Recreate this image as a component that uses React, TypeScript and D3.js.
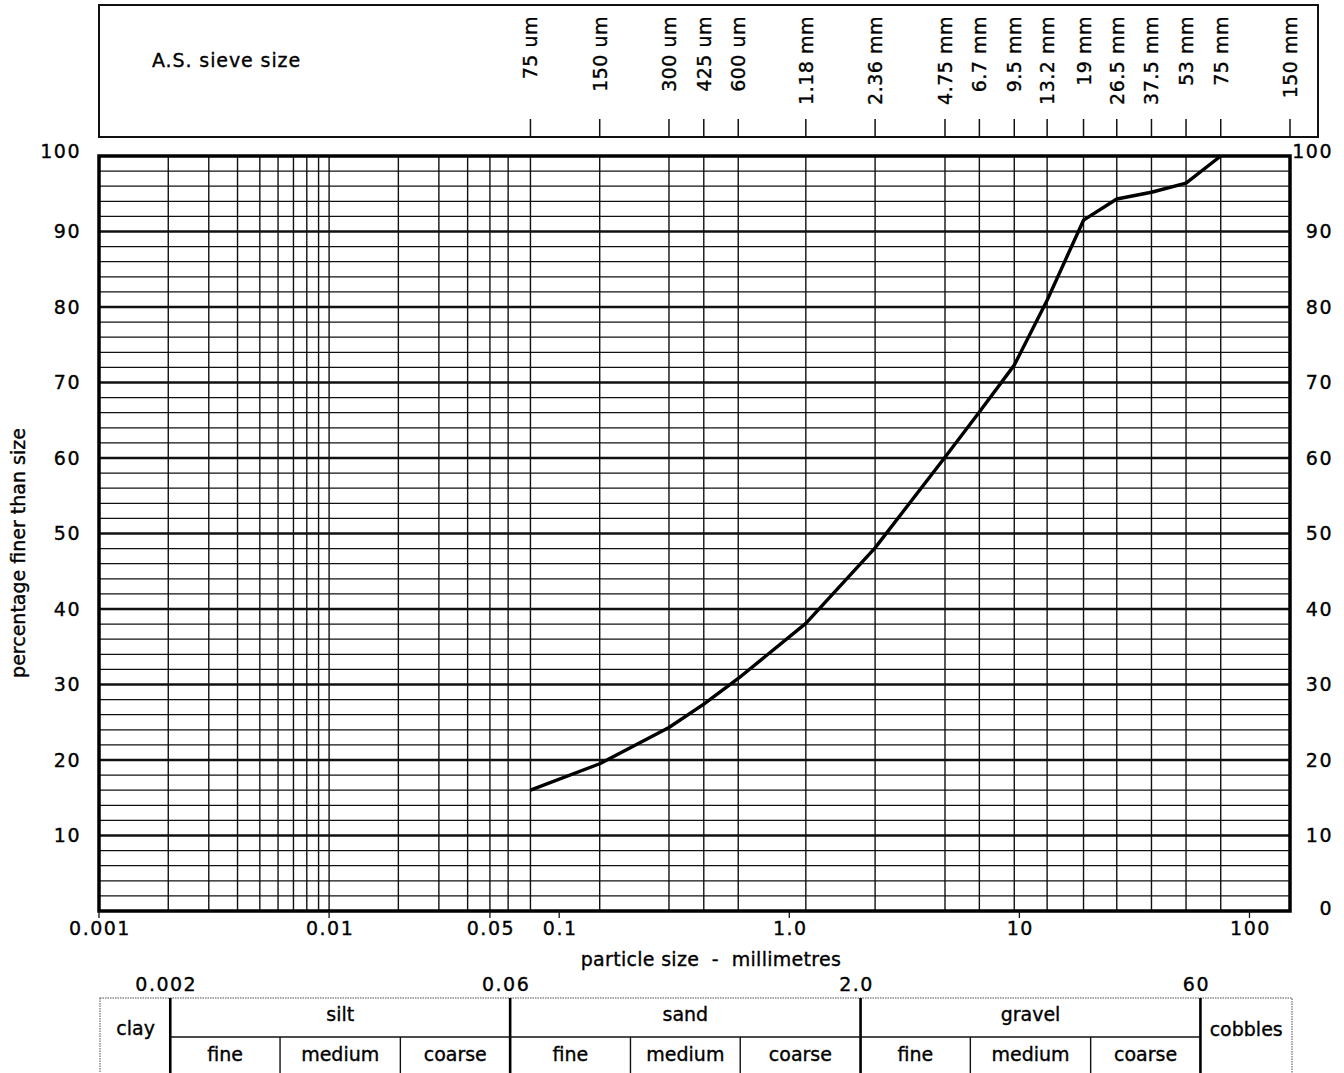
import React, { useEffect, useRef } from "react";
import * as d3 from "d3";

// sieve sizes (mm) and their labels along the top panel
const sieveLabels = [
  "75 um", "150 um", "300 um", "425 um", "600 um", "1.18 mm", "2.36 mm",
  "4.75 mm", "6.7 mm", "9.5 mm", "13.2 mm", "19 mm", "26.5 mm", "37.5 mm",
  "53 mm", "75 mm", "150 mm",
];
const sieveSizes = [
  0.075, 0.15, 0.3, 0.425, 0.6, 1.18, 2.36, 4.75, 6.7, 9.5, 13.2, 19, 26.5,
  37.5, 53, 75, 150,
];

// grading curve: percentage passing each sieve (75 um .. 75 mm)
const curveSizes = [
  0.075, 0.15, 0.3, 0.425, 0.6, 1.18, 2.36, 4.75, 6.7, 9.5, 13.2, 19, 26.5,
  37.5, 53, 75,
];
const percentPassing = [
  16, 19.5, 24.3, 27.4, 30.8, 38.1, 48.1, 60.1, 66.1, 72.3, 80.9, 91.5, 94.3,
  95.2, 96.4, 100,
];

// fine grid lines below the sieve range
const fineGrid = [
  0.002, 0.003, 0.004, 0.005, 0.006, 0.007, 0.008, 0.009, 0.01, 0.02, 0.03,
  0.04, 0.05, 0.06,
];

const xTickValues = [0.001, 0.01, 0.05, 0.1, 1, 10, 100];
const xTickLabels = ["0.001", "0.01", "0.05", "0.1", "1.0", "10", "100"];

// soil classification
const classBounds = [0.002, 0.06, 2, 60];
const classBoundLabels = ["0.002", "0.06", "2.0", "60"];
const mainClasses = ["silt", "sand", "gravel"];
const subClasses = ["fine", "medium", "coarse"];
const subBounds = [
  [0.002, 0.006, 0.02, 0.06],
  [0.06, 0.2, 0.6, 2],
  [2, 6, 20, 60],
];

const FONT = "'DejaVu Sans', Arial, sans-serif";
const NUM_SPACING = "1.5px"; // the scanned digits are wide

const GradingChart = () => {
  const svgRef = useRef(null);

  useEffect(() => {
    const width = 1344;
    const height = 1073;
    const left = 99;
    const right = 1290;
    const top = 156;
    const bottom = 911;

    const x = d3.scaleLog().domain([0.001, 150]).range([left, right]);
    const y = d3.scaleLinear().domain([0, 100]).range([bottom, top]);

    const svg = d3.select(svgRef.current);
    svg.selectAll("*").remove();
    svg
      .attr("width", width)
      .attr("height", height)
      .attr("viewBox", [0, 0, width, height])
      .style("background", "white")
      .style("font-family", FONT)
      .style("font-size", "19px")
      .style("fill", "#000")
      .style("stroke-width", 0);

    // text a little heavier, like the printed sheet
    const heavy = (sel) => sel.attr("stroke", "#000").attr("stroke-width", 0.35);

    // ---- sieve size panel
    const sieve = svg.append("g");
    sieve
      .append("rect")
      .attr("x", left)
      .attr("y", 5)
      .attr("width", 1318 - left)
      .attr("height", 137 - 5)
      .attr("fill", "none")
      .attr("stroke", "#111")
      .attr("stroke-width", 2);
    sieve
      .append("text")
      .attr("x", 152)
      .attr("y", 67)
      .style("letter-spacing", "0.9px")
      .text("A.S. sieve size")
      .call(heavy);
    sieve
      .selectAll("line.st")
      .data(sieveSizes)
      .join("line")
      .attr("x1", (d) => x(d))
      .attr("x2", (d) => x(d))
      .attr("y1", 119)
      .attr("y2", 137)
      .attr("stroke", "#111")
      .attr("stroke-width", 1.5);
    sieve
      .selectAll("text.sl")
      .data(sieveSizes)
      .join("text")
      .attr("text-anchor", "end")
      .style("letter-spacing", "0.5px")
      .attr("transform", (d) => `translate(${x(d) + 7},16) rotate(-90)`)
      .text((d, i) => sieveLabels[i])
      .call(heavy);

    // ---- grid
    const grid = svg.append("g").attr("stroke", "#111");
    grid
      .selectAll("line.h")
      .data(d3.range(2, 100, 2))
      .join("line")
      .attr("x1", left)
      .attr("x2", right)
      .attr("y1", (d) => y(d))
      .attr("y2", (d) => y(d))
      .attr("stroke-width", (d) => (d % 10 === 0 ? 2.6 : 1.3));
    grid
      .selectAll("line.v")
      .data(fineGrid.concat(sieveSizes.slice(0, -1)))
      .join("line")
      .attr("x1", (d) => x(d))
      .attr("x2", (d) => x(d))
      .attr("y1", top)
      .attr("y2", bottom)
      .attr("stroke-width", 1.4);

    // frame
    svg
      .append("rect")
      .attr("x", left)
      .attr("y", top)
      .attr("width", right - left)
      .attr("height", bottom - top)
      .attr("fill", "none")
      .attr("stroke", "#000")
      .attr("stroke-width", 3.5);

    // ---- x axis ticks + labels
    svg
      .append("g")
      .selectAll("line")
      .data(xTickValues)
      .join("line")
      .attr("x1", (d) => x(d))
      .attr("x2", (d) => x(d))
      .attr("y1", bottom)
      .attr("y2", bottom + 7)
      .attr("stroke", "#111")
      .attr("stroke-width", 1.3);
    svg
      .append("g")
      .selectAll("text")
      .data(xTickValues)
      .join("text")
      .attr("x", (d) => x(d) + 1)
      .attr("y", 935)
      .attr("text-anchor", "middle")
      .style("letter-spacing", NUM_SPACING)
      .text((d, i) => xTickLabels[i])
      .call(heavy);
    svg
      .append("text")
      .attr("x", 711)
      .attr("y", 966)
      .attr("text-anchor", "middle")
      .style("white-space", "pre")
      .style("letter-spacing", "0.3px")
      .text("particle size  -  millimetres")
      .call(heavy);

    // ---- y axis labels (left without 0, right with 0)
    svg
      .append("g")
      .selectAll("text")
      .data(d3.range(10, 101, 10))
      .join("text")
      .attr("x", 81)
      .attr("y", (d) => y(d) + (d === 100 ? 2 : 6.5))
      .attr("text-anchor", "end")
      .style("letter-spacing", NUM_SPACING)
      .text((d) => d)
      .call(heavy);
    svg
      .append("g")
      .selectAll("text")
      .data(d3.range(0, 101, 10))
      .join("text")
      .attr("x", 1333)
      .attr("y", (d) => y(d) + (d === 100 ? 2 : d === 0 ? 4 : 6.5))
      .attr("text-anchor", "end")
      .style("letter-spacing", NUM_SPACING)
      .text((d) => d)
      .call(heavy);
    svg
      .append("text")
      .attr("text-anchor", "middle")
      .attr("transform", "translate(25,553) rotate(-90)")
      .text("percentage finer than size")
      .call(heavy);

    // ---- grading curve
    const line = d3
      .line()
      .x((d) => x(d[0]))
      .y((d) => y(d[1]));
    svg
      .append("path")
      .attr("fill", "none")
      .attr("stroke", "#000")
      .attr("stroke-width", 3.4)
      .attr("stroke-linejoin", "round")
      .attr("d", line(curveSizes.map((s, i) => [s, percentPassing[i]])));

    // ---- classification table
    const tab = svg.append("g").attr("transform", "translate(2,0)");
    const tTop = 998;
    const tMid = 1037;
    const tBot = 1078;
    tab
      .append("rect")
      .attr("x", x(0.001) - 1)
      .attr("y", tTop)
      .attr("width", x(150) - x(0.001) + 1)
      .attr("height", tBot - tTop)
      .attr("fill", "none")
      .attr("stroke", "#888")
      .attr("stroke-width", 1.5)
      .attr("stroke-dasharray", "1.5,1");
    tab
      .selectAll("line.cb")
      .data(classBounds)
      .join("line")
      .attr("x1", (d) => x(d))
      .attr("x2", (d) => x(d))
      .attr("y1", tTop)
      .attr("y2", tBot)
      .attr("stroke", "#000")
      .attr("stroke-width", 2.6);
    tab
      .selectAll("text.cbl")
      .data(classBounds)
      .join("text")
      .attr("x", (d) => x(d) - 4)
      .attr("y", 991)
      .attr("text-anchor", "middle")
      .style("letter-spacing", NUM_SPACING)
      .text((d, i) => classBoundLabels[i])
      .call(heavy);
    tab
      .append("line")
      .attr("x1", x(0.002))
      .attr("x2", x(60))
      .attr("y1", tMid)
      .attr("y2", tMid)
      .attr("stroke", "#111")
      .attr("stroke-width", 1.4);

    mainClasses.forEach((name, i) => {
      const b = subBounds[i];
      tab
        .append("text")
        .attr("x", (x(b[0]) + x(b[3])) / 2)
        .attr("y", 1021)
        .attr("text-anchor", "middle")
        .text(name)
        .call(heavy);
      tab
        .selectAll(null)
        .data([b[1], b[2]])
        .join("line")
        .attr("x1", (d) => x(d))
        .attr("x2", (d) => x(d))
        .attr("y1", tMid)
        .attr("y2", tBot)
        .attr("stroke", "#111")
        .attr("stroke-width", 1.4);
      tab
        .selectAll(null)
        .data(subClasses)
        .join("text")
        .attr("x", (d, j) => (x(b[j]) + x(b[j + 1])) / 2)
        .attr("y", 1061)
        .attr("text-anchor", "middle")
        .text((d) => d)
        .call(heavy);
    });
    tab
      .append("text")
      .attr("x", (x(0.001) + x(0.002)) / 2)
      .attr("y", 1035)
      .attr("text-anchor", "middle")
      .text("clay")
      .call(heavy);
    tab
      .append("text")
      .attr("x", (x(60) + x(150)) / 2)
      .attr("y", 1036)
      .attr("text-anchor", "middle")
      .text("cobbles")
      .call(heavy);
  }, []);

  return <svg ref={svgRef} />;
};

export default function App() {
  return (
    <div style={{ position: "absolute", left: 0, top: 0 }}>
      <GradingChart />
    </div>
  );
}
